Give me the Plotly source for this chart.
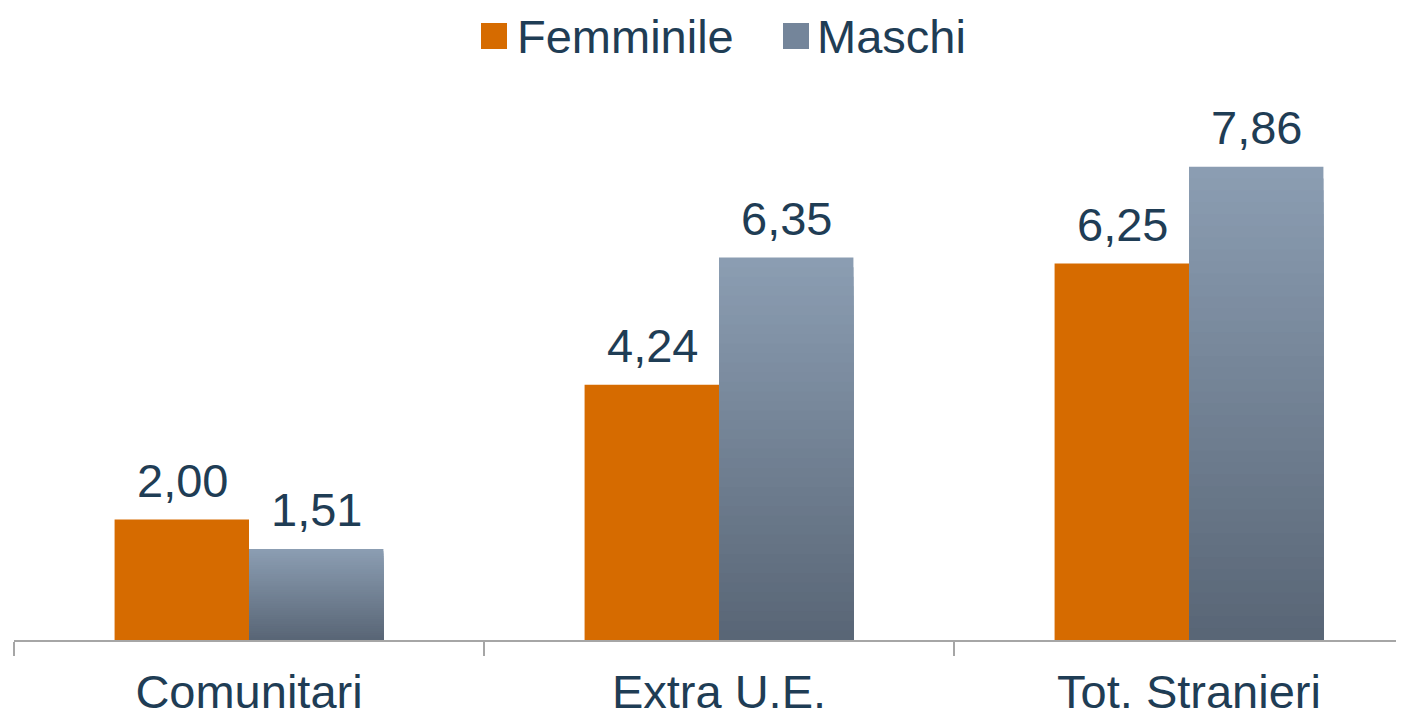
import plotly.graph_objects as go

categories = ["Comunitari", "Extra U.E.", "Tot. Stranieri"]
femminile = [2.00, 4.24, 6.25]
maschi = [1.51, 6.35, 7.86]
series_names = ["Femminile", "Maschi"]


def fmt(v):
    return f"{v:.2f}".replace(".", ",")


ORANGE = "#D66B00"
TOP = (139, 157, 178)
BOT = (89, 102, 118)
TEXT = "#1F3D55"
FONT = "Liberation Sans, Arial, sans-serif"
BW = 0.286

fig = go.Figure()
fig.add_bar(
    x=categories, y=femminile, offset=-BW, width=BW,
    marker=dict(color=ORANGE, line=dict(width=0)),
    name=series_names[0], showlegend=False,
)

# Maschi bars drawn as overlaid layers to imitate the vertical gradient
N = 40
for k in range(N):
    frac = 1 - k / N
    t = k / (N - 1)
    c = tuple(int(round(TOP[i] + (BOT[i] - TOP[i]) * t)) for i in range(3))
    fig.add_bar(
        x=categories, y=[v * frac for v in maschi], offset=0, width=BW,
        marker=dict(color=f"rgb{c}", line=dict(width=0)),
        name=series_names[1], showlegend=False,
        hoverinfo="x+y+name" if k == 0 else "skip",
    )

# page has an 8px body margin; plot area spans page x 14..1404, y 98..640
W, H = 1404, 716
L, R, T, B = 6, 0, 90, 84
pw, ph = W - L - R, H - T - B
PX0, PY0 = 8 + L, 8 + H - B  # page coords of plot-area left / bottom


def px(x):
    return (x - PX0) / pw


def py(y):
    return (PY0 - y) / ph


annotations = []
# value labels above bars
for cat, v in zip(categories, femminile):
    annotations.append(dict(x=cat, y=v, xref="x", yref="y", text=fmt(v),
                            xshift=-67, yshift=11, xanchor="center", yanchor="bottom",
                            showarrow=False, font=dict(size=47, color=TEXT, family=FONT)))
for cat, v in zip(categories, maschi):
    annotations.append(dict(x=cat, y=v, xref="x", yref="y", text=fmt(v),
                            xshift=67, yshift=11, xanchor="center", yanchor="bottom",
                            showarrow=False, font=dict(size=47, color=TEXT, family=FONT)))

# custom legend (large square swatches)
shapes = [
    dict(type="rect", xref="paper", yref="paper", x0=px(481), x1=px(507),
         y0=py(49), y1=py(23), fillcolor=ORANGE, line=dict(width=0)),
    dict(type="rect", xref="paper", yref="paper", x0=px(783), x1=px(809),
         y0=py(49), y1=py(23), fillcolor="#74859A", line=dict(width=0)),
]
annotations += [
    dict(text=series_names[0], xref="paper", yref="paper", x=px(516), y=py(36),
         xanchor="left", yanchor="middle", showarrow=False, borderpad=0,
         font=dict(size=47, color=TEXT, family=FONT)),
    dict(text=series_names[1], xref="paper", yref="paper", x=px(816), y=py(36),
         xanchor="left", yanchor="middle", showarrow=False, borderpad=0,
         font=dict(size=47, color=TEXT, family=FONT)),
]

fig.update_layout(
    width=W, height=H,
    margin=dict(l=L, r=R, t=T, b=B),
    barmode="overlay",
    paper_bgcolor="white", plot_bgcolor="white",
    shapes=shapes, annotations=annotations,
    font=dict(family=FONT, color=TEXT),
    showlegend=False,
)
fig.update_xaxes(
    range=[-0.5, -0.5 + pw / 470.0],
    showline=True, linecolor="#A6A6A6", linewidth=1.5,
    ticks="outside", ticklen=14, tickwidth=1.5, tickcolor="#A6A6A6",
    tickson="boundaries", showgrid=False, ticklabelstandoff=10,
    tickfont=dict(size=47, color=TEXT, family=FONT),
)
fig.update_yaxes(range=[0, 9], visible=False, showgrid=False)

fig.write_html("out.html")
